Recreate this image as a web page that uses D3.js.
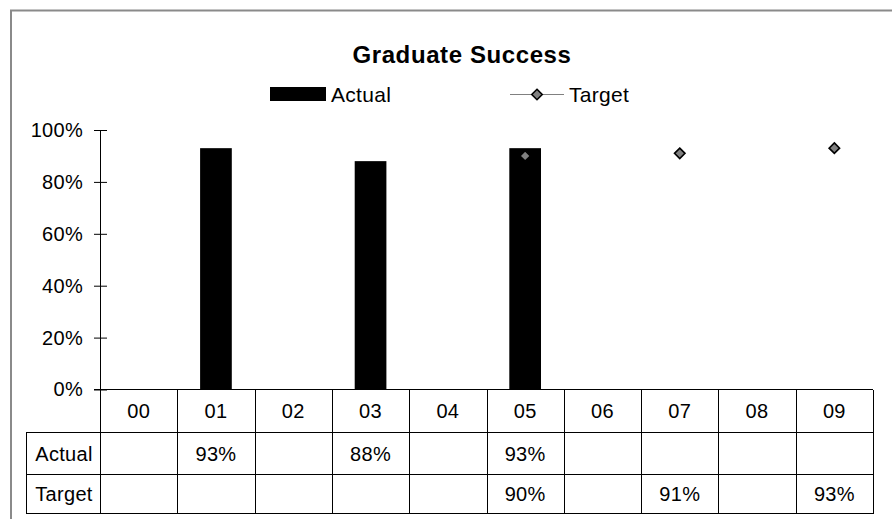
<!DOCTYPE html>
<html>
<head>
<meta charset="utf-8">
<script src="https://cdn.jsdelivr.net/npm/d3@7"></script>
<style>
  html, body { margin: 0; padding: 0; background: #fff; }
  svg { display: block; font-family: "Liberation Sans", Arial, sans-serif; }
</style>
</head>
<body>
<svg id="chart" width="892" height="519"></svg>
<script>
// Graduate success by year: actual rate vs target
const categories = ["00", "01", "02", "03", "04", "05", "06", "07", "08", "09"];
const actual = [null, 0.93, null, 0.88, null, 0.93, null, null, null, null];
const target = [null, null, null, null, null, 0.90, null, 0.91, null, 0.93];
const yTicks = [0, 0.2, 0.4, 0.6, 0.8, 1.0];
const seriesNames = ["Actual", "Target"];

const svg = d3.select("#chart");
const pct = d3.format(".0%");

// layout
const plotLeft = 100, plotRight = 873, plotTop = 130, plotBottom = 389.5;
const tableLeft = 26;
const rowLines = [389.5, 432.5, 474.5, 513.5];

const x = d3.scaleBand().domain(categories).range([plotLeft, plotRight]).paddingInner(0).paddingOuter(0);
const y = d3.scaleLinear().domain([0, 1]).range([plotBottom, plotTop]);

// outer frame (left and top edges)
svg.append("path")
  .attr("d", "M11,519 V10.5 H892")
  .attr("fill", "none")
  .attr("stroke", "#8a8a8a")
  .attr("stroke-width", 2);

// title
svg.append("text")
  .attr("x", 462).attr("y", 63)
  .attr("text-anchor", "middle")
  .attr("font-size", 24).attr("font-weight", "bold")
  .attr("letter-spacing", 0.6)
  .text("Graduate Success");

// legend
const leg = svg.append("g");
leg.append("rect").attr("x", 270).attr("y", 87).attr("width", 56).attr("height", 14).attr("fill", "#000");
leg.append("text").attr("x", 331).attr("y", 102).attr("font-size", 21).attr("letter-spacing", 0.3).text(seriesNames[0]);
leg.append("line").attr("x1", 510).attr("x2", 564).attr("y1", 94.5).attr("y2", 94.5)
  .attr("stroke", "#808080").attr("stroke-width", 1.2);
leg.append("path")
  .attr("d", d3.symbol(d3.symbolDiamond2, 70)())
  .attr("transform", "translate(537,94.5)")
  .attr("fill", "#808080").attr("stroke", "#000").attr("stroke-width", 1.6);
leg.append("text").attr("x", 569).attr("y", 102).attr("font-size", 21).attr("letter-spacing", 0.3).text(seriesNames[1]);

// y axis with ticks crossing the axis line
const yAxis = d3.axisLeft(y)
  .tickValues(yTicks)
  .tickFormat(pct)
  .tickSizeInner(6)
  .tickSizeOuter(0)
  .tickPadding(11);

const gy = svg.append("g").attr("transform", `translate(${plotLeft},0)`).call(yAxis);
gy.select(".domain").attr("stroke", "#000");
gy.selectAll(".tick line").attr("x1", 7).attr("stroke", "#000");
gy.selectAll(".tick text")
  .attr("font-size", 20).attr("font-family", "Liberation Sans, Arial, sans-serif")
  .attr("fill", "#000").attr("letter-spacing", 0.3);

// bars
svg.append("g").selectAll("rect")
  .data(categories.map((c, i) => ({ c, v: actual[i] })).filter(d => d.v != null))
  .join("rect")
  .attr("x", d => x(d.c) + x.bandwidth() * 0.295)
  .attr("width", x.bandwidth() * 0.41)
  .attr("y", d => y(d.v))
  .attr("height", d => y(0) - y(d.v))
  .attr("fill", "#000");

// target line + markers
const targetPts = categories.map((c, i) => ({ c, v: target[i] }));
svg.append("path")
  .datum(targetPts)
  .attr("fill", "none").attr("stroke", "#808080").attr("stroke-width", 1.2)
  .attr("d", d3.line().defined(d => d.v != null)
    .x(d => x(d.c) + x.bandwidth() / 2).y(d => y(d.v)));
svg.append("g").selectAll("path")
  .data(targetPts.filter(d => d.v != null))
  .join("path")
  .attr("d", d3.symbol(d3.symbolDiamond2, 70)())
  .attr("transform", d => `translate(${x(d.c) + x.bandwidth() / 2},${y(d.v)})`)
  .attr("fill", "#808080").attr("stroke", "#000").attr("stroke-width", 1.6);

// data table grid
const grid = svg.append("g").attr("stroke", "#000").attr("stroke-width", 1).attr("shape-rendering", "crispEdges");
grid.append("line").attr("x1", 94).attr("x2", plotRight).attr("y1", rowLines[0]).attr("y2", rowLines[0]);
rowLines.slice(1).forEach(ry => {
  grid.append("line").attr("x1", tableLeft).attr("x2", plotRight).attr("y1", ry).attr("y2", ry);
});
grid.append("line").attr("x1", tableLeft + 0.5).attr("x2", tableLeft + 0.5).attr("y1", rowLines[1]).attr("y2", rowLines[3]);
categories.forEach(c => {
  const bx = Math.round(x(c)) + 0.5;
  grid.append("line").attr("x1", bx).attr("x2", bx).attr("y1", rowLines[0]).attr("y2", rowLines[3]);
});
grid.append("line").attr("x1", plotRight + 0.5).attr("x2", plotRight + 0.5).attr("y1", rowLines[0]).attr("y2", rowLines[3]);

// table text
const tbl = svg.append("g").attr("font-size", 20).attr("letter-spacing", 0.3).attr("text-anchor", "middle");
tbl.selectAll("text.cat")
  .data(categories).join("text").attr("class", "cat")
  .attr("x", d => x(d) + x.bandwidth() / 2)
  .attr("y", (rowLines[0] + rowLines[1]) / 2 + 7)
  .text(d => d);

const rows = [actual, target];
rows.forEach((vals, r) => {
  const cy = (rowLines[r + 1] + rowLines[r + 2]) / 2 + 7;
  tbl.append("text").attr("x", (tableLeft + plotLeft) / 2 + 1).attr("y", cy).text(seriesNames[r]);
  tbl.selectAll(null)
    .data(categories.map((c, i) => ({ c, v: vals[i] })).filter(d => d.v != null))
    .join("text")
    .attr("x", d => x(d.c) + x.bandwidth() / 2)
    .attr("y", cy)
    .text(d => pct(d.v));
});
</script>
</body>
</html>
